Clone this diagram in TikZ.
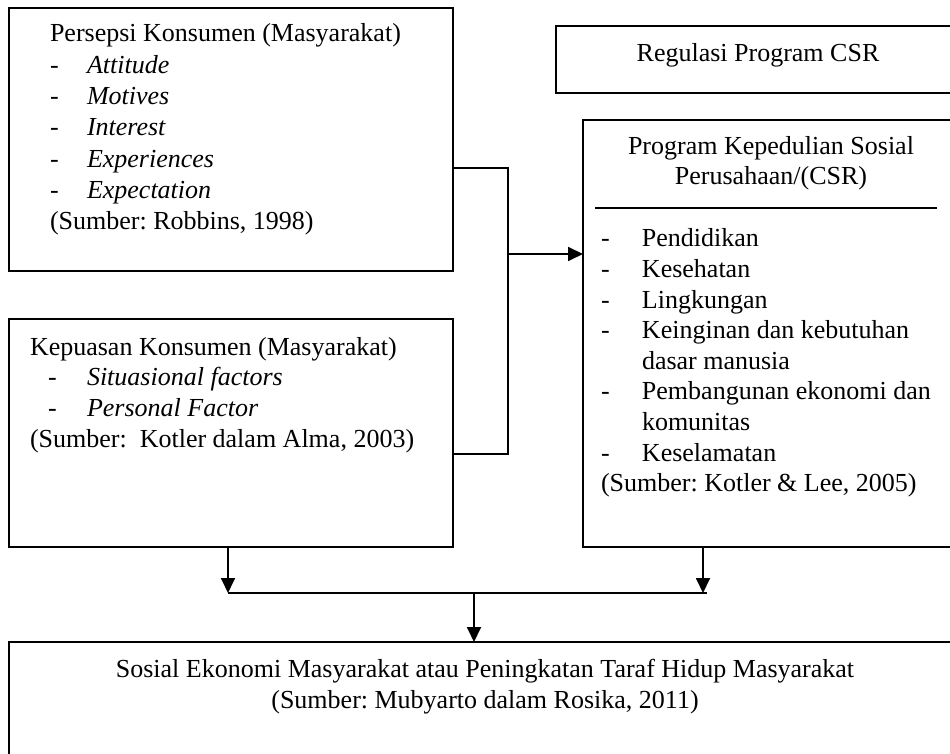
\documentclass[tikz,border=0pt]{standalone}
\usepackage{fontspec}
\setmainfont{Liberation Serif}
\usetikzlibrary{arrows.meta,calc}
\frenchspacing

% a dash followed by the item text, indented by the given width
\newcommand{\dashitem}[2][37pt]{\makebox[#1][l]{-}#2}

\tikzset{
  box/.style={draw, line width=2pt, inner sep=0pt, outer sep=0pt, anchor=north west},
  conn/.style={line width=1.8pt},
  arr/.style={conn, -{Triangle[length=15pt,width=14pt]}},
  txt/.style={inner sep=0pt, outer sep=0pt},
}

\begin{document}
\begin{tikzpicture}[x=1pt,y=-1pt]
\useasboundingbox (0,0) rectangle (950,754);
\clip (0,0) rectangle (950,754);
\fill[white] (0,0) rectangle (950,754);

% boxes
\node[box, minimum width=444, minimum height=263] (persepsi) at (9,8) {};
\node[box, minimum width=444, minimum height=228] (kepuasan) at (9,319) {};
\node[box, minimum width=404, minimum height=67]  (regulasi) at (556,26) {};
\node[box, minimum width=377, minimum height=427] (csr)      at (583,120) {};
\node[box, minimum width=951, minimum height=128] (sosial)   at (9,642) {};

% box texts
\node[txt, anchor=base west, font=\fontsize{26}{31.3}\selectfont] (persepsiText) at (50,42)
  {\begin{tabular}[t]{@{}l@{}}
   Persepsi Konsumen (Masyarakat)\\
   \dashitem{\textit{Attitude}}\\
   \dashitem{\textit{Motives}}\\
   \dashitem{\textit{Interest}}\\
   \dashitem{\textit{Experiences}}\\
   \dashitem{\textit{Expectation}}\\
   (Sumber: Robbins, 1998)
   \end{tabular}};

\node[txt, anchor=base west, font=\fontsize{26}{30.7}\selectfont] (kepuasanText) at (30,355)
  {\begin{tabular}[t]{@{}l@{}}
   Kepuasan Konsumen (Masyarakat)\\
   \hspace*{18pt}\dashitem[39pt]{\textit{Situasional factors}}\\
   \hspace*{18pt}\dashitem[39pt]{\textit{Personal Factor}}\\
   (Sumber:\ \ Kotler dalam Alma, 2003)
   \end{tabular}};

\node[txt, anchor=base, font=\fontsize{26}{31}\selectfont] (regulasiText) at (758,62)
  {Regulasi Program CSR};

\node[txt, anchor=base, font=\fontsize{26}{30}\selectfont] (csrTitle) at (771,155)
  {\begin{tabular}[t]{@{}c@{}}
   Program Kepedulian Sosial\\
   Perusahaan/(CSR)
   \end{tabular}};

\draw[line width=2pt] (595,208) -- (937,208);

\node[txt, anchor=base west, font=\fontsize{26}{30.6}\selectfont] (csrItems) at (601,247)
  {\begin{tabular}[t]{@{}l@{}}
   \dashitem[41pt]{Pendidikan}\\
   \dashitem[41pt]{Kesehatan}\\
   \dashitem[41pt]{Lingkungan}\\
   \dashitem[41pt]{Keinginan dan kebutuhan}\\
   \hspace*{41pt}dasar manusia\\
   \dashitem[41pt]{Pembangunan ekonomi dan}\\
   \hspace*{41pt}komunitas\\
   \dashitem[41pt]{Keselamatan}\\
   (Sumber: Kotler \& Lee, 2005)
   \end{tabular}};

\node[txt, anchor=base, font=\fontsize{26}{31}\selectfont] (sosialText) at (485,677)
  {\begin{tabular}[t]{@{}c@{}}
   Sosial Ekonomi Masyarakat atau Peningkatan Taraf Hidup Masyarakat\\
   (Sumber: Mubyarto dalam Rosika, 2011)
   \end{tabular}};

% junction points of the connectors
\coordinate (jTop) at (508,168);
\coordinate (jBot) at (508,454);
\coordinate (jMid) at (508,254);
\coordinate (bL)   at (228,593);
\coordinate (bR)   at (703,593);
\coordinate (bEnd) at (707,593);
\coordinate (bM)   at (474,593);

% left boxes feed the CSR programme
\draw[conn] (persepsi.east |- jTop) -- (jTop) -- (jBot) -- (kepuasan.east |- jBot);
\draw[arr] (jMid) -- (csr.west |- jMid);

% both lower boxes feed the bottom box
\draw[arr] (kepuasan.south -| bL) -- (bL);
\draw[arr] (csr.south -| bR) -- (bR);
\draw[conn] (bL) -- (bEnd);
\draw[arr] (bM) -- (bM |- sosial.north);
\end{tikzpicture}
\end{document}
